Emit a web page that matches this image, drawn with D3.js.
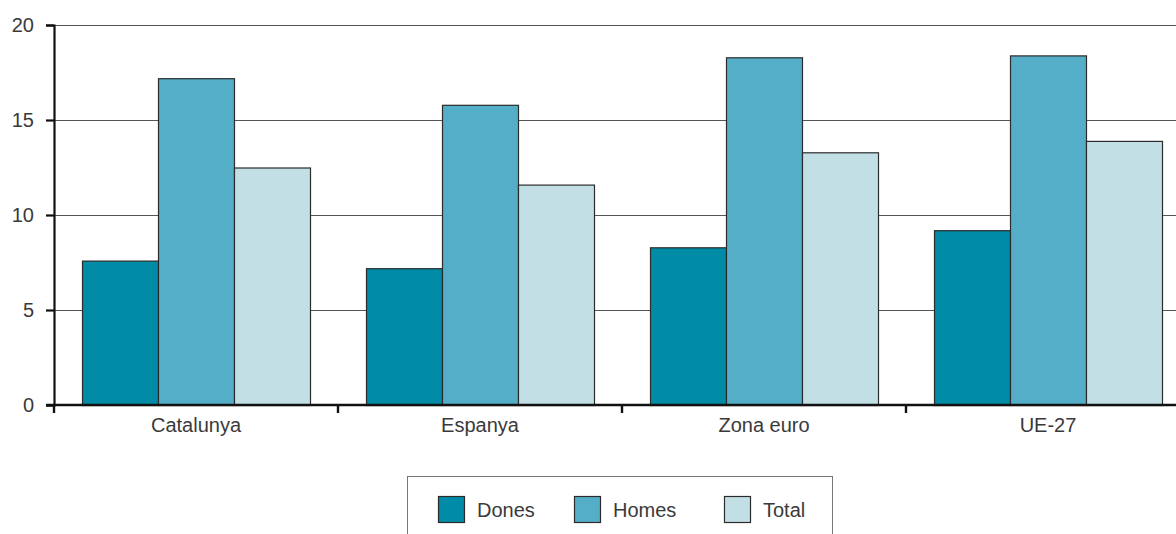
<!DOCTYPE html>
<html>
<head>
<meta charset="utf-8">
<script src="https://cdn.jsdelivr.net/npm/d3@7"></script>
<style>
  body { margin: 0; background: #fff; }
  svg text { font-family: "Liberation Sans", Arial, sans-serif; fill: #3a3a3a; }
</style>
</head>
<body>
<div id="chart"></div>
<script>
const categories = ["Catalunya", "Espanya", "Zona euro", "UE-27"];
const seriesNames = ["Dones", "Homes", "Total"];
const dones = [7.6, 7.2, 8.3, 9.2];
const homes = [17.2, 15.8, 18.3, 18.4];
const total = [12.5, 11.6, 13.3, 13.9];
const yTicks = [0, 5, 10, 15, 20];
const colors = ["#008ba6", "#55aec7", "#c2dfe6"];

const width = 1176, height = 534;
const x0Left = 54, x0Right = 1190;
const yTop = 25, yBottom = 405;

const svg = d3.select("#chart").append("svg")
  .attr("width", width).attr("height", height);

const x = d3.scaleBand().domain(categories).range([x0Left, x0Right]).paddingInner(0).paddingOuter(0);
const xs = d3.scaleBand().domain(seriesNames)
  .range([28, x.bandwidth() - 28]);
const y = d3.scaleLinear().domain([0, 20]).range([yBottom, yTop]);

// gridlines
svg.append("g")
  .selectAll("line")
  .data(yTicks.filter(d => d > 0))
  .enter().append("line")
  .attr("x1", x0Left).attr("x2", width)
  .attr("y1", d => y(d) + 0.5).attr("y2", d => y(d) + 0.5)
  .attr("stroke", "#555")
  .attr("stroke-width", 1);

// bars
const rows = categories.map((c, i) => ({ cat: c, values: [dones[i], homes[i], total[i]] }));
const groups = svg.append("g").selectAll("g")
  .data(rows)
  .enter().append("g")
  .attr("transform", d => `translate(${x(d.cat)},0)`);

groups.selectAll("rect")
  .data(d => d.values.map((v, j) => ({ key: seriesNames[j], value: v, j })))
  .enter().append("rect")
  .attr("x", d => xs(d.key) + 0.5)
  .attr("y", d => y(d.value) + 0.5)
  .attr("width", xs.bandwidth())
  .attr("height", d => yBottom - y(d.value))
  .attr("fill", d => colors[d.j])
  .attr("stroke", "#2b2b2b")
  .attr("stroke-width", 1.2);

// y axis
const yAxis = svg.append("g")
  .attr("transform", `translate(${x0Left},0)`)
  .call(d3.axisLeft(y).tickValues(yTicks).tickSize(8).tickPadding(12));
yAxis.select(".domain").attr("stroke", "#111").attr("stroke-width", 2.2);
yAxis.selectAll(".tick line").attr("stroke", "#111").attr("stroke-width", 2.2);
yAxis.selectAll("text").attr("font-size", 20).attr("dy", "0.3em").attr("fill", "#3a3a3a");

// x axis
const xAxis = svg.append("g")
  .attr("transform", `translate(0,${yBottom})`)
  .call(d3.axisBottom(x).tickSize(0).tickPadding(13));
xAxis.select(".domain").remove();
xAxis.selectAll("text").attr("font-size", 20).attr("fill", "#3a3a3a");
svg.append("line")
  .attr("x1", x0Left - 8).attr("x2", width)
  .attr("y1", yBottom).attr("y2", yBottom)
  .attr("stroke", "#111").attr("stroke-width", 2.4);
svg.append("g").selectAll("line")
  .data(categories)
  .enter().append("line")
  .attr("x1", d => x(d)).attr("x2", d => x(d))
  .attr("y1", yBottom).attr("y2", yBottom + 8)
  .attr("stroke", "#111").attr("stroke-width", 2.4);

// legend
const legend = svg.append("g");
legend.append("rect")
  .attr("x", 407.5).attr("y", 476.5)
  .attr("width", 425).attr("height", 70)
  .attr("fill", "none").attr("stroke", "#777").attr("stroke-width", 1);
const legendX = [438, 574, 724];
const items = legend.selectAll("g.item")
  .data(seriesNames)
  .enter().append("g")
  .attr("class", "item")
  .attr("transform", (d, i) => `translate(${legendX[i]},496)`);
items.append("rect")
  .attr("x", 0.5).attr("y", 0.5)
  .attr("width", 26).attr("height", 26)
  .attr("fill", (d, i) => colors[i])
  .attr("stroke", "#2b2b2b").attr("stroke-width", 1.2);
items.append("text")
  .attr("x", 39).attr("y", 21)
  .attr("font-size", 20)
  .text(d => d);
</script>
</body>
</html>
